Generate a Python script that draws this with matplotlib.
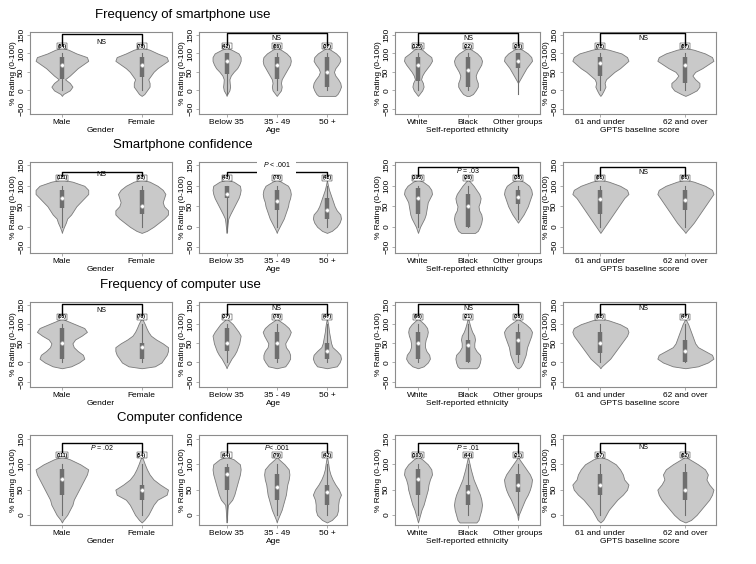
import numpy as np
import matplotlib
matplotlib.use("Agg")
import matplotlib.pyplot as plt

plt.rcParams["font.family"] = ["Liberation Sans", "DejaVu Sans"]
plt.rcParams["mathtext.fontset"] = "custom"
plt.rcParams["mathtext.it"] = "Liberation Sans:italic"
plt.rcParams["mathtext.rm"] = "Liberation Sans"

# ---------------------------------------------------------------- data
# heights at which the violin widths are read (rating, %)
y_grid = [-15, -10, 0, 10, 20, 30, 40, 50, 60, 70, 80, 90, 100, 110, 115]

row_titles = ["Frequency of smartphone use", "Smartphone confidence",
              "Frequency of computer use", "Computer confidence"]

gender_groups = ["Male", "Female"]
age_groups = ["Below 35", "35 - 49", "50 +"]
ethnic_groups = ["White", "Black", "Other groups"]
gpts_groups = ["61 and under", "62 and over"]
panel_xlabels = ["Gender", "Age", "Self-reported ethnicity", "GPTS baseline score"]

# relative violin widths (0-1) at y_grid, one list per group
sfreq_gender = [[0, .05, .3, .4, .3, .12, .3, .45, .6, .8, 1, .95, .55, .25, 0],
                [0, .1, .2, .3, .3, .25, .35, .45, .6, .8, 1, .95, .6, .3, .05]]
sfreq_age = [[0, .05, .2, .25, .22, .2, .3, .5, .75, .9, 1, 1, .85, .35, 0],
             [0, .1, .3, .35, .3, .35, .5, .65, .8, .95, 1, .95, .7, .3, 0],
             [.6, .75, .9, 1, .95, .8, .6, .5, .6, .8, .95, .9, .65, .25, 0]]
sfreq_ethnic = [[0, .1, .3, .4, .35, .22, .3, .45, .65, .85, 1, .95, .6, .3, 0],
                [.1, .35, .55, .7, .7, .6, .55, .65, .8, .95, 1, .9, .65, .25, 0],
                [0, 0, 0, 0, 0, .15, .3, .45, .6, .8, 1, .95, .7, .3, 0]]
sfreq_gpts = [[0, .05, .12, .18, .15, .2, .35, .5, .7, .85, 1, .95, .75, .3, 0],
              [0, .15, .4, .5, .5, .35, .25, .35, .6, .8, 1, .95, .7, .3, 0]]

sconf_gender = [[0, .02, .08, .15, .2, .35, .45, .55, .7, .85, 1, 1, .85, .4, 0],
                [0, .2, .45, .65, .85, 1, 1, .85, .8, .85, .9, .8, .6, .3, 0]]
sconf_age = [[0, .02, .05, .08, .12, .25, .4, .55, .7, .85, .95, 1, .95, .5, 0],
             [0, .05, .2, .35, .5, .6, .7, .8, .85, .95, 1, .95, .8, .3, 0],
             [0, .35, .7, .9, 1, .95, .7, .55, .45, .35, .25, .15, .08, .02, 0]]
sconf_ethnic = [[0, .05, .15, .3, .45, .55, .6, .65, .7, .85, 1, .95, .75, .35, 0],
                [.5, .7, .85, .95, 1, .95, .8, .75, .85, .9, .8, .6, .4, .15, 0],
                [0, 0, 0, 0, .2, .4, .55, .7, .8, .9, 1, .95, .8, .4, 0]]
sconf_gpts = [[0, .05, .15, .25, .35, .45, .55, .65, .75, .85, 1, .95, .7, .3, 0],
              [0, .05, .18, .3, .4, .5, .6, .7, .8, .9, 1, .95, .7, .3, 0]]

cfreq_gender = [[0, .35, .65, .85, .8, .6, .45, .4, .5, .75, .95, .85, .5, .15, 0],
                [0, .5, .75, .85, .95, 1, 1, .8, .55, .35, .25, .18, .12, .05, 0]]
cfreq_age = [[0, .05, .2, .35, .55, .7, .8, .9, .95, 1, .85, .65, .45, .15, 0],
             [0, .6, .8, .95, .95, .85, .65, .6, .75, .9, 1, .85, .55, .15, 0],
             [0, .7, .9, 1, .95, .7, .4, .3, .25, .2, .15, .12, .08, .03, 0]]
cfreq_ethnic = [[0, .4, .7, .85, .8, .6, .5, .5, .55, .65, .7, .65, .45, .15, 0],
                [.6, .75, .85, .9, .85, .6, .45, .45, .5, .45, .3, .2, .12, .05, 0],
                [.05, .2, .35, .45, .55, .6, .65, .75, .85, .95, 1, .85, .55, .15, 0]]
cfreq_gpts = [[0, .05, .2, .35, .45, .55, .65, .75, .85, .95, 1, .95, .7, .3, 0],
              [0, .45, .8, 1, .95, .7, .45, .35, .3, .25, .2, .15, .1, .03, 0]]

cconf_gender = [[0, .05, .2, .3, .4, .45, .55, .65, .75, .85, .95, 1, .7, .3, 0],
                [0, .1, .25, .35, .45, .6, .95, 1, .7, .45, .3, .2, .12, .05, 0]]
cconf_age = [[0, .02, .04, .06, .1, .4, .55, .65, .75, .85, .95, 1, .95, .5, 0],
             [0, .05, .2, .35, .45, .55, .65, .7, .75, .85, .9, .85, .55, .15, 0],
             [0, .35, .7, .8, .8, .85, 1, .85, .6, .4, .25, .15, .1, .04, 0]]
cconf_ethnic = [[0, .05, .15, .25, .4, .5, .6, .7, .75, .85, 1, .95, .7, .3, 0],
                [.6, .75, .85, .95, 1, .95, .85, .7, .55, .4, .3, .2, .12, .04, 0],
                [0, 0, .05, .2, .35, .5, .7, .85, .95, 1, .85, .6, .35, .1, 0]]
cconf_gpts = [[0, .1, .2, .3, .45, .6, .8, .95, 1, .85, .8, .7, .55, .25, 0],
              [0, .2, .4, .55, .7, .85, .95, 1, .85, .75, .8, .7, .45, .15, 0]]

# box stats per group: (whisker low, q1, median, q3, whisker high)
sfreq_gender_box = [(0, 30, 70, 90, 100), (0, 35, 70, 90, 100)]
sfreq_age_box = [(-10, 45, 80, 100, 100), (0, 30, 70, 90, 100), (0, 10, 50, 90, 100)]
sfreq_ethnic_box = [(0, 25, 70, 90, 100), (0, 10, 55, 90, 100), (-10, 60, 80, 100, 100)]
sfreq_gpts_box = [(0, 40, 75, 90, 100), (0, 20, 70, 90, 100)]

sconf_gender_box = [(0, 45, 70, 90, 100), (0, 30, 50, 90, 100)]
sconf_age_box = [(-10, 70, 80, 100, 100), (0, 40, 62, 90, 100), (0, 20, 40, 70, 100)]
sconf_ethnic_box = [(0, 30, 70, 95, 100), (0, 0, 50, 80, 100), (20, 55, 73, 90, 100)]
sconf_gpts_box = [(0, 30, 68, 90, 100), (0, 40, 65, 90, 100)]

cfreq_gender_box = [(0, 10, 50, 90, 100), (0, 10, 40, 50, 100)]
cfreq_age_box = [(0, 30, 50, 90, 100), (0, 10, 50, 80, 100), (0, 10, 30, 50, 100)]
cfreq_ethnic_box = [(0, 10, 50, 80, 100), (0, 0, 45, 60, 100), (0, 20, 60, 80, 100)]
cfreq_gpts_box = [(0, 25, 50, 80, 100), (0, 0, 30, 60, 100)]

cconf_gender_box = [(0, 40, 70, 90, 100), (0, 30, 50, 60, 100)]
cconf_age_box = [(-10, 50, 80, 95, 100), (0, 30, 55, 80, 100), (0, 20, 45, 60, 100)]
cconf_ethnic_box = [(0, 40, 70, 90, 100), (0, 20, 45, 60, 100), (0, 45, 60, 80, 100)]
cconf_gpts_box = [(0, 40, 60, 80, 100), (0, 30, 50, 85, 100)]

# group sizes shown above each violin
sfreq_n = [["(84)", "(78)"], ["(42)", "(86)", "(37)"], ["(123)", "(22)", "(20)"], ["(72)", "(87)"]]
sconf_n = [["(111)", "(51)"], ["(41)", "(78)", "(42)"], ["(103)", "(26)", "(33)"], ["(81)", "(81)"]]
cfreq_n = [["(85)", "(76)"], ["(37)", "(78)", "(47)"], ["(96)", "(21)", "(38)"], ["(92)", "(47)"]]
cconf_n = [["(111)", "(54)"], ["(44)", "(79)", "(42)"], ["(103)", "(44)", "(21)"], ["(87)", "(82)"]]

# comparison result per panel
sfreq_tests = ["NS", "NS", "NS", "NS"]
sconf_tests = ["NS", "$P$ < .001", "$P$ = .03", "NS"]
cfreq_tests = ["NS", "NS", "NS", "NS"]
cconf_tests = ["$P$ = .02", "$P$< .001", "$P$ = .01", "NS"]

# ---------------------------------------------------------------- layout
W, H = 756, 564
col_x = [(30, 172), (199, 347), (395, 540), (563, 716)]
row_y = [(32, 114), (162, 253), (302, 387), (435, 525)]
title_pos = [(183, 15), (183, 145), (180, 285), (180, 418)]
xlims = [(0.6, 2.38), (0.45, 3.4), (0.54, 3.44), (0.56, 2.36)]
ylims = [(-64, 158), (-64, 158), (-64, 158), (-20, 158)]
bracket_y = [[153, 154, 154, 154], [133, 134, 146, 146], [154, 154, 154, 154], [143, 143, 143, 143]]
text_y = [[130, 141, 140, 140], [127, 153, 138, 132], [137, 141, 141, 141], [133, 133, 133, 133]]

widths_all = [[sfreq_gender, sfreq_age, sfreq_ethnic, sfreq_gpts],
              [sconf_gender, sconf_age, sconf_ethnic, sconf_gpts],
              [cfreq_gender, cfreq_age, cfreq_ethnic, cfreq_gpts],
              [cconf_gender, cconf_age, cconf_ethnic, cconf_gpts]]
boxes_all = [[sfreq_gender_box, sfreq_age_box, sfreq_ethnic_box, sfreq_gpts_box],
             [sconf_gender_box, sconf_age_box, sconf_ethnic_box, sconf_gpts_box],
             [cfreq_gender_box, cfreq_age_box, cfreq_ethnic_box, cfreq_gpts_box],
             [cconf_gender_box, cconf_age_box, cconf_ethnic_box, cconf_gpts_box]]
n_all = [sfreq_n, sconf_n, cfreq_n, cconf_n]
tests_all = [sfreq_tests, sconf_tests, cfreq_tests, cconf_tests]
groups_all = [gender_groups, age_groups, ethnic_groups, gpts_groups]

fill_col = "#c9c9c9"
edge_col = "#7a7a7a"
box_col = "#6e6e6e"
spine_col = "#8c8c8c"

fig = plt.figure(figsize=(W / 100, H / 100), dpi=100)

for r in range(4):
    tx, ty = title_pos[r]
    fig.text(tx / W, 1 - ty / H, row_titles[r], ha="center", va="center", fontsize=9.5)
    for c in range(4):
        l, rr = col_x[c]
        t, b = row_y[r]
        ax = fig.add_axes([l / W, 1 - b / H, (rr - l) / W, (b - t) / H])
        groups = groups_all[c]
        half = 0.33 if len(groups) == 2 else 0.28
        yy = np.array(y_grid, dtype=float)
        for i, g in enumerate(groups):
            x = i + 1
            w = np.array(widths_all[r][c][i]) * half
            # keep one zero point on each side of the shape so the tips close
            idx = np.where(w > 0)[0]
            lo_i = max(idx[0] - 1, 0)
            hi_i = min(idx[-1] + 1, len(yy) - 1)
            ys = yy[lo_i:hi_i + 1]
            ws = w[lo_i:hi_i + 1]
            ax.fill_betweenx(ys, x - ws, x + ws, facecolor=fill_col,
                             edgecolor=edge_col, linewidth=0.6, zorder=2)
            wl, q1, med, q3, wh = boxes_all[r][c][i]
            ax.plot([x, x], [wl, wh], color=box_col, lw=0.8, zorder=3)
            ax.plot([x, x], [q1, q3], color=box_col, lw=3.2,
                    solid_capstyle="butt", zorder=4)
            ax.plot(x, med, "o", ms=2.6, mfc="white", mec="#bdbdbd", mew=0.4, zorder=5)
            ax.text(x, 119 if r < 3 else 118, n_all[r][c][i], ha="center", va="center",
                    fontsize=3.6, fontweight="bold", zorder=6,
                    bbox=dict(boxstyle="square,pad=0.1", fc="white", ec="black", lw=0.3))

        # comparison bracket
        n_g = len(groups)
        by = bracket_y[r][c]
        ax.plot([1, 1, n_g, n_g], [124, by, by, 124], color="black", lw=1.0,
                zorder=6, clip_on=False)
        label = tests_all[r][c]
        xm = (1 + n_g) / 2
        if r == 1 and c == 1:
            ax.text(xm, text_y[r][c], label, ha="center", va="center", fontsize=5,
                    zorder=7, clip_on=False,
                    bbox=dict(boxstyle="square,pad=0.8", fc="white", ec="none"))
        else:
            ax.text(xm, text_y[r][c], label, ha="center", va="center", fontsize=5,
                    zorder=7)

        ax.set_xlim(*xlims[c])
        ax.set_ylim(*ylims[r])
        ax.set_xticks(range(1, n_g + 1))
        ax.set_xticklabels(groups)
        if r < 3:
            ax.set_yticks([-50, 0, 50, 100, 150])
        else:
            ax.set_yticks([0, 50, 100, 150])
        ax.tick_params(axis="both", labelsize=6, length=2.5, width=0.5,
                       color=spine_col, pad=1)
        ax.tick_params(axis="y", labelrotation=90)
        for lab in ax.get_yticklabels():
            lab.set_va("center")
        ax.set_xlabel(panel_xlabels[c], fontsize=6, labelpad=0.5)
        ax.set_ylabel("% Rating (0-100)", fontsize=6, labelpad=1)
        for sp in ax.spines.values():
            sp.set_color(spine_col)
            sp.set_linewidth(0.8)

plt.savefig("out.png", dpi=100)
